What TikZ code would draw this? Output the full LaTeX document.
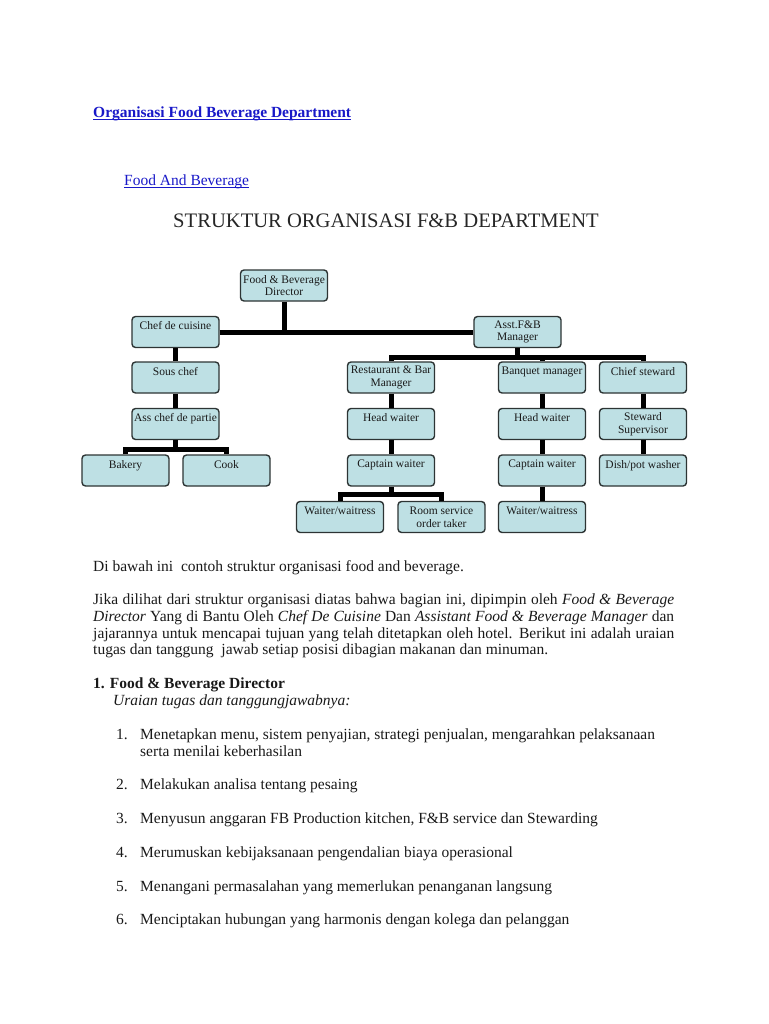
\documentclass[tikz,border=0pt]{standalone}
\usepackage{fontspec}
\setmainfont{Liberation Serif}
\usetikzlibrary{calc}
\definecolor{boxblue}{RGB}{190,224,228}
\definecolor{linkblue}{RGB}{24,24,200}
\definecolor{boxline}{RGB}{45,52,52}
\begin{document}
\begin{tikzpicture}[x=1pt,y=-1pt,
 orgbox/.style={draw=boxline, line width=1.4pt, fill=boxblue, rounded corners=3.5pt, minimum width=87pt, minimum height=31pt, inner sep=1pt, align=center, font=\fontsize{11.5}{12.8}\selectfont, text=black!90},
 conn/.style={line width=5pt, black},
 txt/.style={anchor=base west, inner sep=0pt, font=\fontsize{15.5}{17}\selectfont, text=black!90},
 uline/.style={linkblue, line width=1pt},
]
\useasboundingbox (0,0) rectangle (768,1024);
% headings
\node[txt, font=\fontsize{15.5}{17}\selectfont\bfseries, text=linkblue] (h1) at (93,118) {Organisasi Food Beverage Department};
\draw[uline] ($(h1.base west)+(0,2)$) -- ($(h1.base east)+(0,2)$);
\node[txt, text=linkblue] (h2) at (124,186) {Food And Beverage};
\draw[uline] ($(h2.base west)+(0,2)$) -- ($(h2.base east)+(0,2)$);
\node[anchor=base, inner sep=0pt, font=\fontsize{20.6}{24}\selectfont, text=black!85] (ct) at (386,228) {STRUKTUR ORGANISASI F\&B DEPARTMENT};
% chart boxes
\node[orgbox] (fbd) at (284,285.5) {Food \& Beverage\\Director};
\node[orgbox] (cdc) at (175.5,332) {Chef de cuisine\\\mbox{}};
\node[orgbox] (asst) at (517.5,332) {Asst.F\&B\\Manager};
\node[orgbox] (sous) at (175.5,377.5) {Sous chef\\\mbox{}};
\node[orgbox] (acp) at (175.5,424) {Ass chef de partie\\\mbox{}};
\node[orgbox] (bakery) at (125.5,470.5) {Bakery\\\mbox{}};
\node[orgbox] (cook) at (226.5,470.5) {Cook\\\mbox{}};
\node[orgbox] (rbm) at (391,377.5) {Restaurant \& Bar\\Manager};
\node[orgbox] (banq) at (542,377.5) {Banquet manager\\\mbox{}};
\node[orgbox] (chst) at (643,377.5) {Chief steward\\\mbox{}};
\node[orgbox] (hw1) at (391,424) {Head waiter\\\mbox{}};
\node[orgbox] (hw2) at (542,424) {Head waiter\\\mbox{}};
\node[orgbox] (ssup) at (643,424) {Steward\\Supervisor};
\node[orgbox] (cw1) at (391,470.5) {Captain waiter\\\mbox{}};
\node[orgbox] (cw2) at (542,470.5) {Captain waiter\\\mbox{}};
\node[orgbox] (dish) at (643,470.5) {Dish/pot washer\\\mbox{}};
\node[orgbox] (ww1) at (340,517) {Waiter/waitress\\\mbox{}};
\node[orgbox] (rs) at (441.5,517) {Room service\\order taker};
\node[orgbox] (ww2) at (542,517) {Waiter/waitress\\\mbox{}};
% connectors
\draw[conn] (fbd.south) -- (fbd.south |- cdc.east);
\draw[conn] (cdc.east) -- (asst.west);
\draw[conn] (cdc.south) -- (sous.north);
\draw[conn] (sous.south) -- (acp.north);
\coordinate (f1) at ($(acp.south)+(0,9)$);
\draw[conn] (acp.south) -- (f1);
\draw[conn] (bakery.north) |- (f1) -| (cook.north);
\coordinate (b2) at ($(asst.south)+(0,9)$);
\draw[conn] (asst.south) -- (b2);
\draw[conn] (rbm.north) |- (b2) -| (chst.north);
\draw[conn] (banq.north) -- (banq.north |- b2);
\draw[conn] (rbm.south) -- (hw1.north);
\draw[conn] (hw1.south) -- (cw1.north);
\draw[conn] (banq.south) -- (hw2.north);
\draw[conn] (hw2.south) -- (cw2.north);
\draw[conn] (cw2.south) -- (ww2.north);
\draw[conn] (chst.south) -- (ssup.north);
\draw[conn] (ssup.south) -- (dish.north);
\coordinate (f3) at ($(cw1.south)+(0,8)$);
\draw[conn] (cw1.south) -- (f3);
\draw[conn] (ww1.north) |- (f3) -| (rs.north);
% body text
\node[txt] (p0) at (93,571) {Di bawah ini~ contoh struktur organisasi food and beverage.};
\node[txt] (p1) at (93,604) {\makebox[581pt][s]{Jika dilihat dari struktur organisasi diatas bahwa bagian ini, dipimpin oleh \textit{Food \& Beverage}}};
\node[txt] (p2) at (93,621) {\makebox[581pt][s]{\textit{Director} Yang di Bantu Oleh \textit{Chef De Cuisine} Dan \textit{Assistant Food \& Beverage Manager} dan}};
\node[txt] (p3) at (93,638) {\makebox[581pt][s]{jajarannya untuk mencapai tujuan yang telah ditetapkan oleh hotel. Berikut ini adalah uraian}};
\node[txt] (p4) at (93,654) {tugas dan tanggung~ jawab setiap posisi dibagian makanan dan minuman.};
\node[txt, font=\fontsize{15.5}{17}\selectfont\bfseries] (s1) at (93,688) {1. Food \& Beverage Director};
\node[txt, font=\fontsize{15.5}{17}\selectfont\itshape] (s1u) at (113,705) {Uraian tugas dan tanggungjawabnya:};
\node[txt] (n1) at (116,739) {1.};
\node[txt] (i1) at (140,739) {Menetapkan menu, sistem penyajian, strategi penjualan, mengarahkan pelaksanaan};
\node[txt] (i1b) at (140,756) {serta menilai keberhasilan};
\node[txt] (n2) at (116,789) {2.};
\node[txt] (i2) at (140,789) {Melakukan analisa tentang pesaing};
\node[txt] (n3) at (116,823) {3.};
\node[txt] (i3) at (140,823) {Menyusun anggaran FB Production kitchen, F\&B service dan Stewarding};
\node[txt] (n4) at (116,857) {4.};
\node[txt] (i4) at (140,857) {Merumuskan kebijaksanaan pengendalian biaya operasional};
\node[txt] (n5) at (116,891) {5.};
\node[txt] (i5) at (140,891) {Menangani permasalahan yang memerlukan penanganan langsung};
\node[txt] (n6) at (116,924) {6.};
\node[txt] (i6) at (140,924) {Menciptakan hubungan yang harmonis dengan kolega dan pelanggan};
\end{tikzpicture}
\end{document}
